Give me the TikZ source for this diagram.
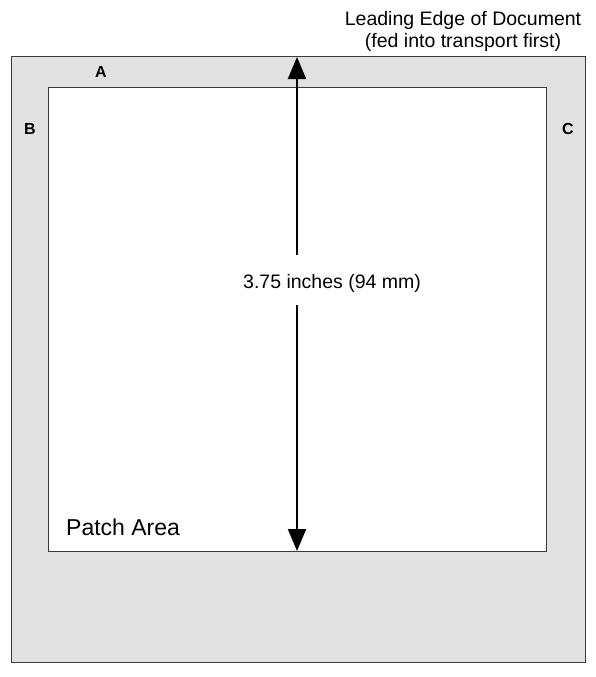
\documentclass[tikz,border=0pt]{standalone}
\usepackage{fontspec}
\setmainfont{Liberation Sans}
\usetikzlibrary{arrows.meta}
\definecolor{paper}{HTML}{E1E1E1}
\definecolor{edge}{HTML}{3A3A3A}
\tikzset{
  frame/.style={draw=edge, line width=1.2pt},
  lbl/.style={font=\fontsize{16}{18}\selectfont\bfseries, inner sep=0pt},
  txt/.style={font=\fontsize{19.5}{22}\selectfont, inner sep=0pt},
  dim/.style={line width=2pt, -{Triangle[length=22pt,width=18pt]}}
}
\begin{document}
\begin{tikzpicture}[x=1pt,y=-1pt]
\useasboundingbox (0,0) rectangle (595,677);
\node[frame, fill=paper, minimum width=574pt, minimum height=606pt, inner sep=0pt, anchor=north west] (doc) at (11,56) {};
\node[frame, fill=white, minimum width=498pt, minimum height=464pt, inner sep=0pt, anchor=north west] (patch) at (48,87) {};
\node[txt, align=center, anchor=base] (lead) at (463,48) {Leading Edge of Document\\(fed into transport first)};
\node[lbl] (A) at (101,72) {A};
\node[lbl] (B) at (30,129) {B};
\node[lbl] (C) at (568,129) {C};
\node[txt, anchor=base west] (dimtxt) at (243,288) {3.75 inches (94 mm)};
\node[font=\fontsize{23}{27}\selectfont, inner sep=0pt, anchor=base west] (pa) at (66,535) {Patch Area};
\coordinate (gtop) at (297,255);
\coordinate (gbot) at (297,305);
\coordinate (tipT) at (297,57);
\coordinate (tipB) at (297,551);
\draw[dim] (gtop) -- (tipT);
\draw[dim] (gbot) -- (tipB);
\end{tikzpicture}
\end{document}
